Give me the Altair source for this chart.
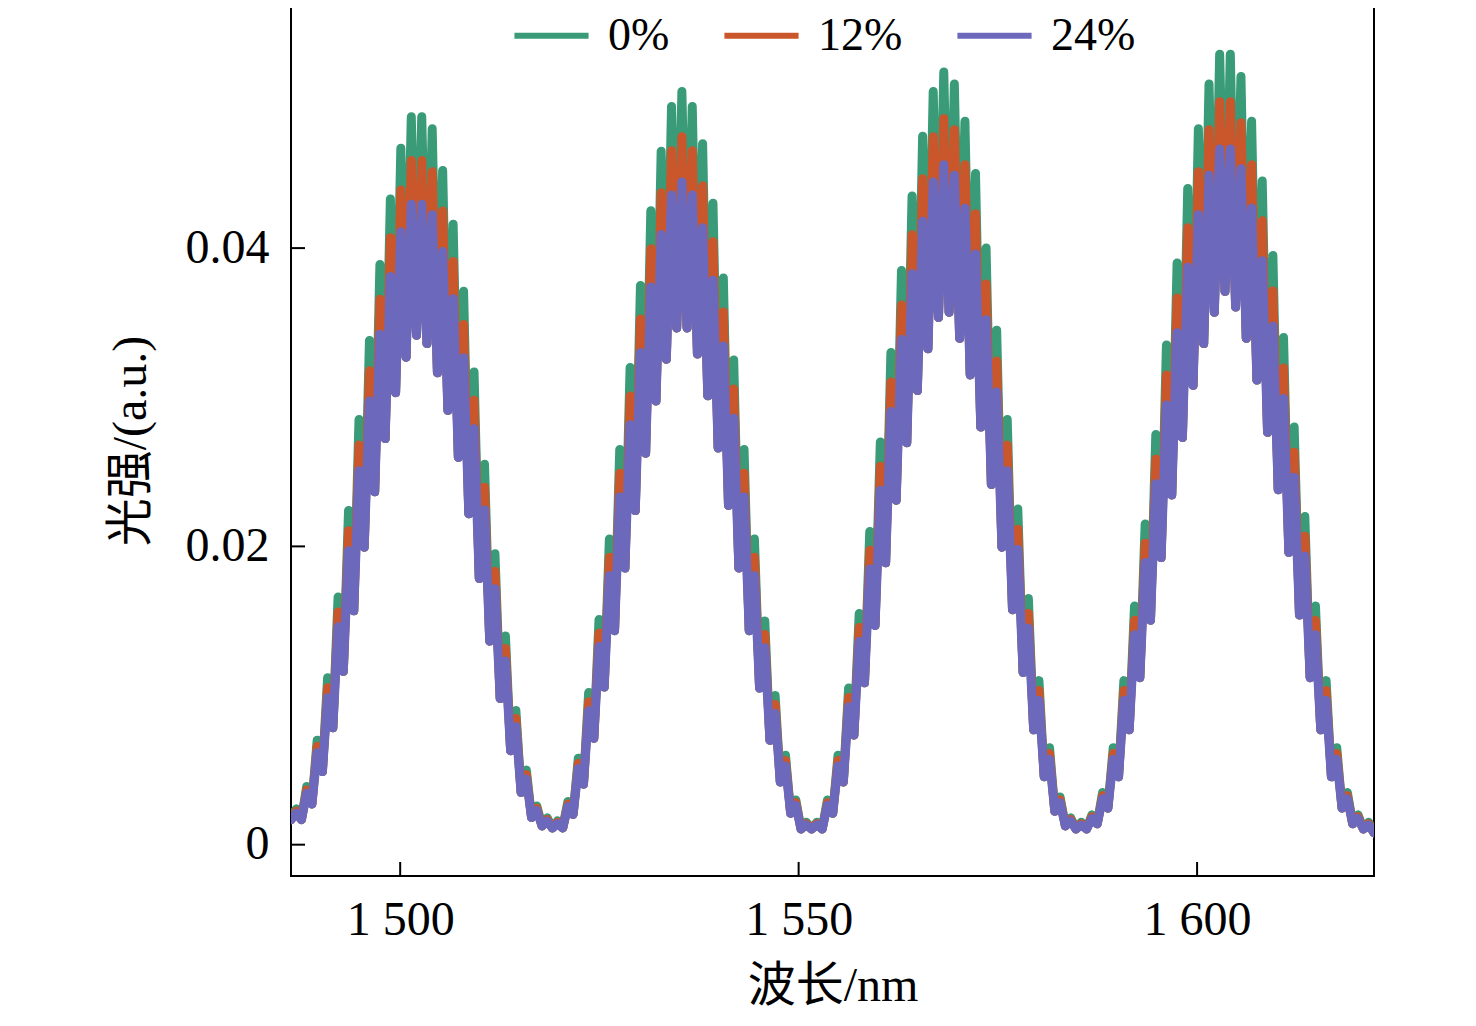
import pandas as pd
import altair as alt

# lobe boundaries (nm) and 0% fringe peak heights (x1e-3) read per lobe
lobe_edges = [1486.3, 1517.8, 1550.3, 1584.8, 1622.2]
lobe1 = [2.4, 3.9, 7.0, 11.2, 16.6, 22.4, 28.5, 33.8, 38.9, 43.3, 46.7, 48.8,
         48.8, 48.0, 45.2, 41.6, 37.1, 31.7, 25.5, 19.5, 14.0, 9.0, 5.0, 2.6]
lobe2 = [1.8, 1.6, 2.9, 5.8, 10.2, 15.1, 20.5, 26.5, 32.0, 37.5, 42.5, 46.5,
         49.5, 50.5, 49.5, 47.0, 43.0, 38.0, 32.5, 26.5, 20.5, 15.0, 10.0, 6.0, 3.0]
lobe3 = [1.5, 1.5, 3.0, 6.0, 10.5, 15.5, 21.0, 27.0, 33.0, 38.5, 43.5, 47.5,
         50.5, 51.8, 51.0, 48.5, 45.0, 40.0, 34.5, 28.5, 22.5, 16.5, 11.0, 6.5, 3.2, 1.8]
lobe4 = [1.5, 2.0, 3.5, 6.5, 11.0, 16.0, 21.5, 27.5, 33.5, 39.0, 44.0, 48.0,
         51.0, 53.0, 53.0, 51.5, 48.5, 44.5, 39.5, 34.0, 28.0, 22.0, 16.0, 11.0,
         6.5, 3.5, 2.0, 1.5]
lobes = [lobe1, lobe2, lobe3, lobe4]

series = ["0%", "12%", "24%"]
peak_ratio = [1.0, 0.94, 0.88]      # peak height relative to 0% curve
trough_ratio = 0.70                 # fringe trough relative to neighbouring peak
colors = ["#3a9b78", "#c9572b", "#6c69bd"]

rows = []
for s, r in zip(series, peak_ratio):
    for li, peaks in enumerate(lobes):
        a, b = lobe_edges[li], lobe_edges[li + 1]
        step = (b - a) / len(peaks)
        for k, p in enumerate(peaks):
            prev = peaks[k - 1] if k > 0 else p
            rows.append({"wl": a + k * step, "v": min(prev, p) * trough_ratio * 1e-3, "s": s})
            rows.append({"wl": a + (k + 0.5) * step, "v": p * r * 1e-3, "s": s})
    rows.append({"wl": lobe_edges[-1], "v": 0.0008, "s": s})
df = pd.DataFrame(rows)

x_dom = [1486.3, 1622.2]
y_dom = [-0.0021, 0.0563]
font = "Liberation Serif, Noto Sans CJK SC"

lines = alt.Chart(df).mark_line(strokeWidth=9, clip=True, strokeJoin="round", strokeCap="round").encode(
    x=alt.X("wl:Q", scale=alt.Scale(domain=x_dom, nice=False, zero=False),
            axis=alt.Axis(values=[1500, 1550, 1600], title="波长/nm", ticks=False,
                          labelExpr="replace(format(datum.value, 'd'), /^(\\d)/, '$1 ')",
                          labelPadding=20, titlePadding=18, grid=False)),
    y=alt.Y("v:Q", scale=alt.Scale(domain=y_dom, nice=False, zero=False),
            axis=alt.Axis(values=[0, 0.02, 0.04], title="光强/(a.u.)", ticks=False,
                          labelExpr="datum.value == 0 ? '0' : format(datum.value, '.2f')",
                          labelPadding=22, titlePadding=30, grid=False)),
    color=alt.Color("s:N", sort=series, scale=alt.Scale(domain=series, range=colors),
                    legend=alt.Legend(orient="none", legendX=220, legendY=-10, direction="horizontal",
                                      title=None, symbolType="stroke", symbolSize=5500,
                                      symbolStrokeWidth=6, labelFontSize=46, labelFont=font,
                                      columnPadding=42, labelOffset=16)),
    order=alt.Order("s_order:Q"),
).transform_calculate(s_order="indexof(['0%','12%','24%'], datum.s)")

# inward tick marks
xt = pd.DataFrame({"t": [1500, 1550, 1600]})
yt = pd.DataFrame({"t": [0, 0.02, 0.04]})
xticks = alt.Chart(xt).mark_rule(color="black", strokeWidth=2).encode(
    x="t:Q", y=alt.value(871), y2=alt.value(857))
yticks = alt.Chart(yt).mark_rule(color="black", strokeWidth=2).encode(
    y="t:Q", x=alt.value(0), x2=alt.value(14))

chart = alt.layer(lines, xticks, yticks).properties(
    width=1083, height=871, autosize=alt.AutoSizeParams(type="none"),
    padding={"left": 283, "top": -3, "right": 60, "bottom": 150},
).configure_view(stroke="black", strokeWidth=2).configure_axis(
    labelFont=font, titleFont=font, labelFontSize=48, titleFontSize=48,
    labelColor="black", titleColor="black", domain=False, titleFontWeight="normal",
)

chart.save("out.html", embed_options={"renderer": "svg", "actions": False})
